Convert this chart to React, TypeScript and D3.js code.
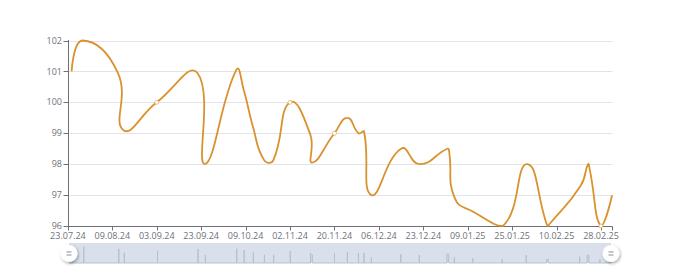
import React from 'react';
import * as d3 from 'd3';

// ---- data ----
const categoryCount = 295;
const labelInterval = 24;
const xLabels = ['23.07.24', '09.08.24', '03.09.24', '23.09.24', '09.10.24', '02.11.24', '20.11.24', '06.12.24', '23.12.24', '09.01.25', '25.01.25', '10.02.25', '28.02.25'];
const yTicks = [96, 97, 98, 99, 100, 101, 102];
const pointIndex = [2, 8, 27, 30, 48, 70, 74, 91, 95, 100, 106, 111, 120, 131, 132, 144, 151, 157, 160, 164, 180, 190, 205, 206, 209, 219, 235, 248, 259, 260, 277, 281, 282, 288, 294];
const pointValue = [101, 102, 100.95, 99.1, 100, 100.95, 98, 101.05, 100.4, 99.2, 98.13, 98.13, 100, 98.95, 98.05, 99, 99.5, 99, 99.05, 97, 98.5, 98, 98.5, 98.4, 96.9, 96.46, 96, 98, 96, 96.05, 97.3, 98, 97.8, 96, 97];

const LINE = '#d9922e';
const AXIS = '#6e7079';
const GRID = '#e2e4e8';
const FONT = '"Open Sans", "Noto Sans", sans-serif';

const x = d3.scaleLinear().domain([0, categoryCount - 1]).range([67.9, 612.1]);
const y = d3.scaleLinear().domain([96, 102]).range([226, 40.5]);

type P = [number, number];

function smoothPath(pts: P[], smooth = 0.5): string {
  const minX = d3.min(pts, (p) => p[0])!, maxX = d3.max(pts, (p) => p[0])!;
  const minY = d3.min(pts, (p) => p[1])!, maxY = d3.max(pts, (p) => p[1])!;
  const cl = (p: P): P => [Math.min(maxX, Math.max(minX, p[0])), Math.min(maxY, Math.max(minY, p[1]))];
  let d = `M${pts[0][0]},${pts[0][1]}`;
  let cp0: P = pts[0];
  for (let i = 1; i < pts.length; i++) {
    const p = pts[i];
    const prev = pts[i - 1];
    let cp1: P = p;
    let nextCp0: P = p;
    if (i < pts.length - 1) {
      const next = pts[i + 1];
      const vx = next[0] - prev[0];
      const vy = next[1] - prev[1];
      const lp = Math.hypot(p[0] - prev[0], p[1] - prev[1]);
      const ln = Math.hypot(next[0] - p[0], next[1] - p[1]);
      const r = ln / (ln + lp);
      cp1 = cl([p[0] - vx * smooth * (1 - r), p[1] - vy * smooth * (1 - r)]);
      nextCp0 = cl([p[0] + vx * smooth * r, p[1] + vy * smooth * r]);
    }
    d += `C${cp0[0]},${cp0[1]},${cp1[0]},${cp1[1]},${p[0]},${p[1]}`;
    cp0 = nextCp0;
  }
  return d;
}

export default function App() {
  const pts: P[] = pointIndex.map((ix, k) => [x(ix), y(pointValue[k])]);
  const linePath = smoothPath(pts);
  const markers = pointIndex
    .map((ix, k) => ({ ix, v: pointValue[k] }))
    .filter((d) => d.ix % labelInterval === 0);

  // data shadow for the slider
  const full: (number | null)[] = new Array(categoryCount).fill(null);
  pointIndex.forEach((ix, k) => (full[ix] = pointValue[k]));
  const vmin = d3.min(pointValue)!, vmax = d3.max(pointValue)!;
  const off = (vmax - vmin) * 0.3;
  const sx0 = 69, sx1 = 611, sTop = 243, sBot = 263;
  const sh = d3.scaleLinear().domain([vmin - off, vmax + off]).range([0, sBot - sTop]);
  const step = (sx1 - sx0) / (categoryCount - 1);
  const linePts: P[] = [];
  let last = true;
  full.forEach((v, i) => {
    const empty = v == null;
    const c = sx0 + i * step;
    const o = empty ? 0 : sh(v as number);
    if (empty && !last && i && linePts.length) linePts.push([linePts[linePts.length - 1][0], 0]);
    else if (!empty && last) linePts.push([c, 0]);
    linePts.push([c, o]);
    last = empty;
  });
  const shadowD = 'M' + linePts.map((p) => `${p[0]},${sBot - p[1]}`).join('L');
  const areaD = `M${sx0},${sBot}L` + linePts.map((p) => `${p[0]},${sBot - p[1]}`).join('L') + `L${sx1},${sBot}Z`;

  const handle = (cx: number) => (
    <g key={cx} filter="url(#hs)">
      <circle cx={cx} cy={253.5} r={8.5} fill="#fff" />
      <line x1={cx - 2.5} x2={cx + 2.5} y1={252} y2={252} stroke="#8a8f99" strokeWidth={1} />
      <line x1={cx - 2.5} x2={cx + 2.5} y1={255} y2={255} stroke="#8a8f99" strokeWidth={1} />
    </g>
  );

  return (
    <svg width={680} height={267} style={{ position: 'absolute', left: 0, top: 0 }} fontFamily={FONT}>
      <defs>
        <clipPath id="gclip">
          <rect x={60} y={30} width={560} height={197} />
        </clipPath>
        <filter id="hs" x="-50%" y="-50%" width="200%" height="200%">
          <feDropShadow dx={1} dy={1.5} stdDeviation={1.5} floodColor="#000" floodOpacity={0.35} />
        </filter>
      </defs>
      {/* grid */}
      {yTicks.map((t) => (
        <line key={t} x1={68} x2={612.5} y1={Math.round(y(t)) + 0.5} y2={Math.round(y(t)) + 0.5} stroke={GRID} strokeWidth={1} />
      ))}
      {/* y axis */}
      <line x1={68.5} x2={68.5} y1={40} y2={226.5} stroke={AXIS} strokeWidth={1} />
      {yTicks.map((t) => (
        <g key={t}>
          <line x1={63.5} x2={68.5} y1={Math.round(y(t)) + 0.5} y2={Math.round(y(t)) + 0.5} stroke={AXIS} />
          <text x={62} y={y(t)} dy="0.35em" textAnchor="end" fontSize={9} fill={AXIS}>{t}</text>
        </g>
      ))}
      {/* x axis */}
      <line x1={68} x2={612.5} y1={226.5} y2={226.5} stroke={AXIS} strokeWidth={1} />
      {xLabels.map((lab, i) => {
        const xx = Math.round(x(i * labelInterval)) + 0.5;
        return (
          <g key={lab}>
            <line x1={xx} x2={xx} y1={226.5} y2={230.5} stroke={AXIS} />
            <text x={x(i * labelInterval)} y={238.8} textAnchor="middle" fontSize={9} fill={AXIS}>{lab}</text>
          </g>
        );
      })}
      <line x1={612.5} x2={612.5} y1={226.5} y2={230.5} stroke={AXIS} />
      {/* series */}
      <g clipPath="url(#gclip)">
        <path d={linePath} fill="none" stroke={LINE} strokeWidth={1.8} strokeLinejoin="round" />
      </g>
      {markers.map((m) => (
        <circle key={m.ix} cx={x(m.ix)} cy={y(m.v)} r={2} fill="#fff" stroke={LINE} strokeOpacity={0.55} strokeWidth={1} />
      ))}
      {/* slider */}
      <rect x={sx0} y={sTop} width={sx1 - sx0} height={sBot - sTop} fill="#d9e0eb" />
      <path d={areaD} fill="#c9d1dd" opacity={0.6} />
      <path d={shadowD} fill="none" stroke="#b6c0ce" strokeWidth={1} />
      {handle(sx0)}
      {handle(sx1)}
    </svg>
  );
}
